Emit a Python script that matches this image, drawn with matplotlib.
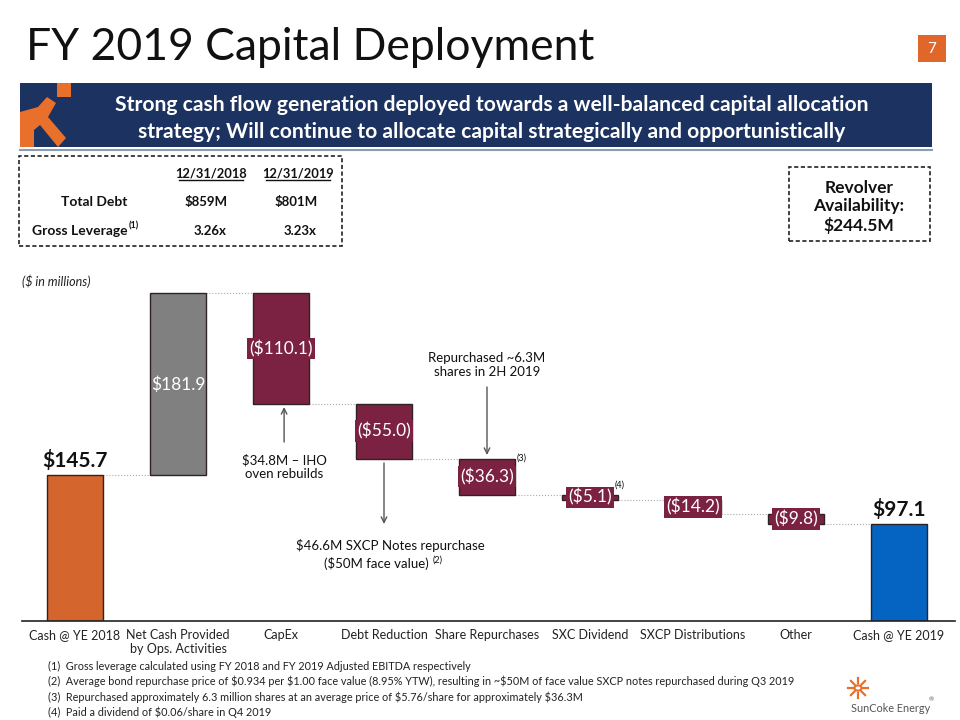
import matplotlib.pyplot as plt
from matplotlib.patches import Rectangle, Polygon, Circle
import numpy as np

plt.rcParams["font.family"] = ["Lato", "DejaVu Sans"]
plt.rcParams["text.parse_math"] = False

W, H = 960, 720

# waterfall data ($ in millions)
categories = ["Cash @ YE 2018", "Net Cash Provided\nby Ops. Activities", "CapEx",
              "Debt Reduction", "Share Repurchases", "SXC Dividend",
              "SXCP Distributions", "Other", "Cash @ YE 2019"]
values = [145.7, 181.9, -110.1, -55.0, -36.3, -5.1, -14.2, -9.8, 97.1]
kinds = ["total", "up", "down", "down", "down", "down", "down", "down", "total"]

table_cols = ["12/31/2018", "12/31/2019"]
total_debt = ["$859M", "$801M"]
gross_lev = ["3.26x", "3.23x"]

footnotes = [
    "(1)  Gross leverage calculated using FY 2018 and FY 2019 Adjusted EBITDA respectively",
    "(2)  Average bond repurchase price of $0.934 per $1.00 face value (8.95% YTW), resulting in ~$50M of face value SXCP notes repurchased during Q3 2019",
    "(3)  Repurchased approximately 6.3 million shares at an average price of $5.76/share for approximately $36.3M",
    "(4)  Paid a dividend of $0.06/share in Q4 2019",
]

ORANGE = "#D4652C"
GRAY = "#808080"
MAROON = "#7B2242"
BLUE = "#0563C1"
NAVY = "#1C3260"


def px(x, y):
    return x / W, 1 - y / H


def ftext(x, y, s, **kw):
    fx, fy = px(x, y)
    return fig.text(fx, fy, s, **kw)


fig = plt.figure(figsize=(9.6, 7.2), dpi=100)

# title and page number
ftext(26, 48, "FY 2019 Capital Deployment", fontsize=32, va="center", ha="left", color="#111111")
fig.patches.append(Rectangle(px(918, 62), 28 / W, 27 / H, transform=fig.transFigure,
                             fc="#E0662A", ec="none"))
ftext(932, 49, "7", fontsize=11, color="white", ha="center", va="center")

# banner
fig.patches.append(Rectangle(px(20, 147), 912 / W, 64 / H, transform=fig.transFigure,
                             fc=NAVY, ec="none"))
fig.lines.append(plt.Line2D([20 / W, 932 / W], [1 - 150 / H] * 2, transform=fig.transFigure,
                            color="#8A9BB5", lw=1.5))
# orange mark at banner left
fig.patches.append(Rectangle(px(57, 97), 14 / W, 14 / H, transform=fig.transFigure,
                             fc="#E8702A", ec="none"))
arm = [px(20, 112), px(38, 107), px(47, 97), px(56, 103), px(48, 117), px(66, 138),
       px(58, 147), px(40, 125), px(34, 130), px(34, 147), px(20, 147)]
fig.patches.append(Polygon(arm, closed=True, transform=fig.transFigure, fc="#E8702A", ec="none"))
ftext(492, 105, "Strong cash flow generation deployed towards a well-balanced capital allocation",
      fontsize=15.2, fontweight="bold", color="white", ha="center", va="center")
ftext(492, 132, "strategy; Will continue to allocate capital strategically and opportunistically",
      fontsize=15.2, fontweight="bold", color="white", ha="center", va="center")

# debt table
fig.patches.append(Rectangle(px(19, 246), 323 / W, 90 / H, transform=fig.transFigure,
                             fc="none", ec="#222222", lw=1.2, ls=(0, (2.5, 1.5))))
for cx, s in zip([211, 298], table_cols):
    ftext(cx, 173, s, fontsize=9.3, fontweight="bold", ha="center", va="center", color="#111111")
    fig.lines.append(plt.Line2D([(cx - 32) / W, (cx + 32) / W], [1 - 180 / H] * 2,
                                transform=fig.transFigure, color="#111111", lw=1))
ftext(94, 202, "Total Debt", fontsize=10, fontweight="bold", ha="center", va="center", color="#111111")
ftext(128, 231, "Gross Leverage", fontsize=10, fontweight="bold", ha="right", va="center", color="#111111")
ftext(129, 226, "(1)", fontsize=6.5, fontweight="bold", ha="left", va="center", color="#111111")
for cx, a, b in zip([206, 296], total_debt, gross_lev):
    ftext(cx, 202, a, fontsize=9.5, fontweight="bold", ha="center", va="center", color="#111111")
    ftext(cx + 4, 231, b, fontsize=9.5, fontweight="bold", ha="center", va="center", color="#111111")

# revolver box
fig.patches.append(Rectangle(px(789, 241), 141 / W, 74 / H, transform=fig.transFigure,
                             fc="none", ec="#222222", lw=1.2, ls=(0, (2.5, 1.5))))
ftext(859, 207, "Revolver\nAvailability:\n$244.5M", fontsize=12.5, fontweight="bold",
      ha="center", va="center", color="#111111", linespacing=1.15)

ftext(22, 281, "($ in millions)", fontsize=9, style="italic", ha="left", va="center", color="#222222")

# waterfall axes
ax = fig.add_axes([22 / W, 1 - 621 / H, (955 - 22) / W, 340 / H])
x = np.arange(len(categories))
bw = 0.55
running = 0.0
bottoms, heights, levels, colors = [], [], [], []
for v, k in zip(values, kinds):
    if k == "total":
        bottoms.append(0)
        heights.append(v)
        running = v
        colors.append(ORANGE if not levels else BLUE)
    elif k == "up":
        bottoms.append(running)
        heights.append(v)
        running += v
        colors.append(GRAY)
    else:
        bottoms.append(running + v)
        heights.append(-v)
        running += v
        colors.append(MAROON)
    levels.append(running)

ax.bar(x, heights, bottom=bottoms, width=bw, color=colors, edgecolor="#2E2222", linewidth=1, zorder=2)

for i in range(len(x) - 1):
    ax.plot([x[i] + bw / 2, x[i + 1] - bw / 2], [levels[i], levels[i]],
            color="#AAAAAA", lw=0.8, ls=":", zorder=1)

for i, (v, k) in enumerate(zip(values, kinds)):
    mid = bottoms[i] + heights[i] / 2
    if k == "total":
        ax.text(x[i], heights[i] + 4, f"${v:.1f}", ha="center", va="bottom",
                fontsize=15, fontweight="bold", color="#111111", zorder=4)
    elif k == "up":
        ax.text(x[i], mid, f"${v:.1f}", ha="center", va="center", fontsize=12.5,
                color="white", zorder=4)
    else:
        ax.text(x[i], mid, f"(${-v:.1f})", ha="center", va="center", fontsize=12.5,
                color="white", zorder=4,
                bbox=dict(boxstyle="square,pad=0.12", fc=MAROON, ec="none"))

# callouts
arrow = dict(arrowstyle="->", color="#555555", lw=1, shrinkA=0, shrinkB=0)
fs_note = 9.5
ax.annotate("", xy=(2.03, 214), xytext=(2.03, 179), arrowprops=arrow)
ax.text(2.03, 154, "$34.8M \u2013 IHO\noven rebuilds", ha="center", va="center",
        fontsize=fs_note, color="#111111", linespacing=1.25)
ax.annotate("", xy=(3.0, 97), xytext=(3.0, 158), arrowprops=arrow)
ax.text(3.058, 75, "$46.6M SXCP Notes repurchase", ha="center", va="center",
        fontsize=fs_note, color="#111111")
ax.text(2.922, 57, "($50M face value)", ha="center", va="center",
        fontsize=fs_note, color="#111111")
ax.text(3.47, 61, "(2)", ha="left", va="center", fontsize=6.5, color="#111111")
ax.annotate("", xy=(4.0, 166), xytext=(4.0, 234), arrowprops=arrow)
ax.text(4.0, 256, "Repurchased ~6.3M\nshares in 2H 2019", ha="center", va="center",
        fontsize=fs_note, color="#111111", linespacing=1.25)
ax.text(4.34, 163, "(3)", ha="center", va="center", fontsize=6.5, color="#111111")
ax.text(5.29, 136, "(4)", ha="center", va="center", fontsize=6.5, color="#111111")

ax.set_xlim((22 - 75) / 103, (955 - 75) / 103)
ax.set_ylim(0, 340)
ax.set_xticks(x)
ax.set_xticklabels(categories, fontsize=9, color="#222222", linespacing=1.2)
ax.tick_params(axis="x", length=0, pad=6)
ax.set_yticks([])
for s in ["top", "right", "left"]:
    ax.spines[s].set_visible(False)
ax.spines["bottom"].set_color("#222222")
ax.spines["bottom"].set_linewidth(1.2)
ax.patch.set_alpha(0)

# footnotes
for j, s in enumerate(footnotes):
    ftext(48, 666 + j * 15.5, s, fontsize=7.8, ha="left", va="center", color="#222222")

# logo
cx, cy = px(858, 688)
for a in np.linspace(0, 2 * np.pi, 9)[:-1]:
    fig.lines.append(plt.Line2D([cx + 5 * np.cos(a) / W, cx + 10 * np.cos(a) / W],
                                [cy + 5 * np.sin(a) / H, cy + 10 * np.sin(a) / H],
                                transform=fig.transFigure, color="#E8702A", lw=1.6))
fig.patches.append(Circle((cx, cy), 3.5 / W, transform=fig.transFigure, fc="none",
                          ec="#E8702A", lw=1.5))
ftext(851, 709, "SunCoke Energy", fontsize=7.8, ha="left", va="center", color="#555555")
ftext(929, 700, "\u00ae", fontsize=4.5, ha="left", va="center", color="#555555")

fig.savefig("out.png", dpi=100)
